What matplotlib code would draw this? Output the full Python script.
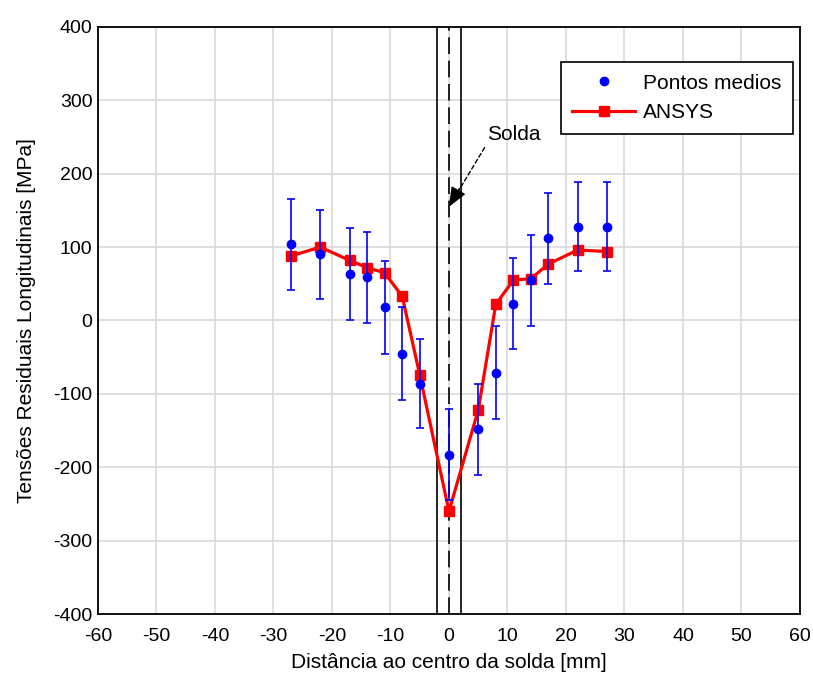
import matplotlib.pyplot as plt
from matplotlib.lines import Line2D
import numpy as np

plt.rcParams['font.family'] = ['Liberation Sans', 'DejaVu Sans']
plt.rcParams['axes.unicode_minus'] = False

# distancia ao centro da solda [mm]
dist = [-27, -22, -17, -14, -11, -8, -5, 0, 5, 8, 11, 14, 17, 22, 27]
# pontos medios (medidos) [MPa]
medios = [104, 90, 63, 59, 18, -45, -86, -183, -148, -71, 23, 55, 112, 128, 128]
erro = [62, 61, 63, 62, 63, 63, 61, 62, 62, 63, 62, 62, 62, 61, 61]
# resultado ANSYS [MPa]
ansys = [88, 100, 82, 72, 65, 33, -74, -260, -122, 22, 55, 57, 77, 96, 94]

fig = plt.figure(figsize=(8.13, 6.74), dpi=100)
ax = fig.add_axes([0.1205, 0.089, 0.8635, 0.871])

# zona da solda
ax.axvline(-2, color='black', lw=1.2, zorder=2)
ax.axvline(2, color='black', lw=1.2, zorder=2)
ax.axvline(0, color='black', lw=1.2, dashes=(10, 4), zorder=2)

ax.errorbar(dist, medios, yerr=erro, fmt='o', color='blue', ms=6,
            elinewidth=1.2, capsize=3, capthick=1.2, zorder=4)
ax.plot(dist, ansys, color='red', lw=2.3, marker='s', ms=7, zorder=3)

# seta tracejada + ponta cheia
ax.annotate('Solda', xy=(0, 155), xytext=(6.5, 254), fontsize=15, ha='left', va='center',
            arrowprops=dict(arrowstyle='-', color='black', lw=1, ls=(0, (3, 2)),
                            shrinkA=1, shrinkB=0, relpos=(0, 0)))
ax.annotate('', xy=(0, 155), xytext=(1.8, 180),
            arrowprops=dict(arrowstyle='-|>,head_length=1.2,head_width=0.5',
                            color='black', lw=1, shrinkA=0, shrinkB=0))

ax.set_xlim(-60, 60)
ax.set_ylim(-400, 400)
ax.set_xticks(np.arange(-60, 61, 10))
ax.set_yticks(np.arange(-400, 401, 100))
ax.tick_params(length=0, labelsize=14)
ax.tick_params(axis='x', pad=10)
ax.tick_params(axis='y', pad=4)
ax.grid(True, color='#d9d9d9', lw=1.2)
ax.set_axisbelow(True)
for s in ax.spines.values():
    s.set_linewidth(1.3)

ax.set_xlabel('Distância ao centro da solda [mm]', fontsize=15, labelpad=6)
ax.set_ylabel('Tensões Residuais Longitudinais [MPa]', fontsize=15, labelpad=12)

handles = [Line2D([], [], color='blue', marker='o', ms=6, ls='none'),
           Line2D([], [], color='red', lw=2.3, marker='s', ms=7)]
leg = ax.legend(handles, ['Pontos medios', 'ANSYS'], loc='upper right',
                bbox_to_anchor=(0.99, 0.94), borderaxespad=0, fontsize=15,
                fancybox=False, framealpha=1, edgecolor='black', borderpad=0.55,
                handlelength=3, labelspacing=0.5, handletextpad=0.4)
leg.get_frame().set_linewidth(1.2)

fig.savefig('out.png', dpi=100)
